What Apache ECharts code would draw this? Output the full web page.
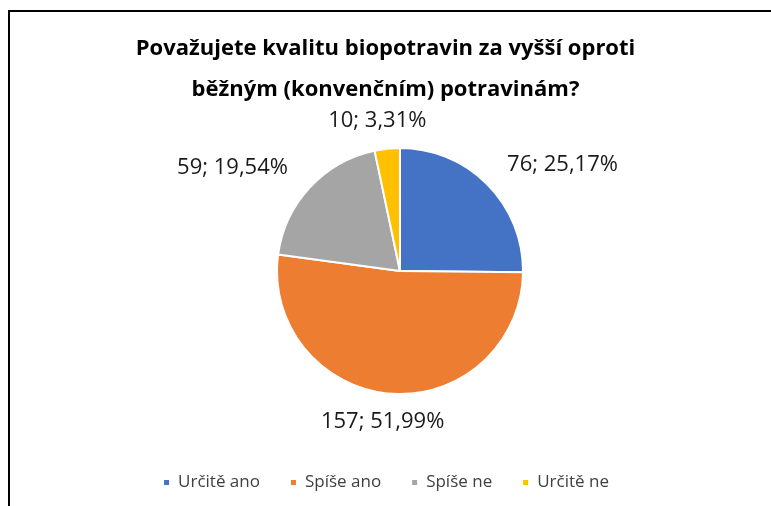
<!DOCTYPE html>
<html>
<head>
<meta charset="utf-8">
<script src="https://cdn.jsdelivr.net/npm/echarts@6/dist/echarts.min.js"></script>
<style>
  body { margin: 0; background: #fff; }
  #frame { position: absolute; left: 8px; top: 10px; width: 780px; height: 520px;
           border-left: 2px solid #000; border-top: 2px solid #000; }
  #main { position: absolute; left: 0; top: 0; width: 771px; height: 506px; }
</style>
</head>
<body>
<div id="frame"></div>
<div id="main"></div>
<script>
var categories = ['Určitě ano', 'Spíše ano', 'Spíše ne', 'Určitě ne'];
var counts = [76, 157, 59, 10];
var percents = ['25,17%', '51,99%', '19,54%', '3,31%'];
var colors = ['#4472C4', '#ED7D31', '#A5A5A5', '#FFC000'];

var pieCenter = [400, 271];
var pieRadius = 123;

// střední úhly výsečí (od vrcholu, po směru hodinových ručiček)
var total = counts.reduce(function (s, v) { return s + v; }, 0);
var midAngles = [];
var acc = 0;
counts.forEach(function (v) {
	midAngles.push((acc + v / 2) / total * 2 * Math.PI);
	acc += v;
});

var chart = echarts.init(document.getElementById('main'));

chart.setOption({
	backgroundColor: 'transparent',
	title: {
		text: 'Považujete kvalitu biopotravin za vyšší oproti\nběžným (konvenčním) potravinám?',
		left: 'center',
		top: 23,
		textStyle: {
			fontFamily: 'Open Sans',
			fontWeight: 'bold',
			fontSize: 22,
			lineHeight: 41,
			color: '#000'
		}
	},
	legend: {
		data: categories,
		top: 469,
		left: 'center',
		icon: 'rect',
		itemWidth: 7,
		itemHeight: 7,
		itemGap: 29,
		textStyle: {
			fontFamily: 'Open Sans',
			fontSize: 17,
			color: '#404040',
			padding: [0, 0, 0, 3]
		}
	},
	series: [{
		type: 'pie',
		center: pieCenter,
		radius: pieRadius,
		startAngle: 90,
		animation: false,
		itemStyle: {
			borderColor: '#fff',
			borderWidth: 2
		},
		label: {
			show: true,
			position: 'outside',
			fontFamily: 'Open Sans',
			fontSize: 22,
			color: '#1a1a1a',
			formatter: function (p) {
				return counts[p.dataIndex] + '; ' + percents[p.dataIndex];
			}
		},
		labelLine: { show: false },
		labelLayout: function (p) {
			var a = midAngles[p.dataIndex];
			var ux = Math.sin(a), uy = -Math.cos(a);
			var r = pieRadius + 17;
			var w = p.labelRect.width, h = p.labelRect.height;
			return {
				x: pieCenter[0] + ux * r + ux * w * 0.8,
				y: pieCenter[1] + uy * r + uy * h * 0.5,
				align: 'center',
				verticalAlign: 'middle'
			};
		},
		emphasis: { disabled: true },
		data: categories.map(function (c, i) {
			return { name: c, value: counts[i], itemStyle: { color: colors[i] } };
		})
	}]
});
</script>
</body>
</html>
